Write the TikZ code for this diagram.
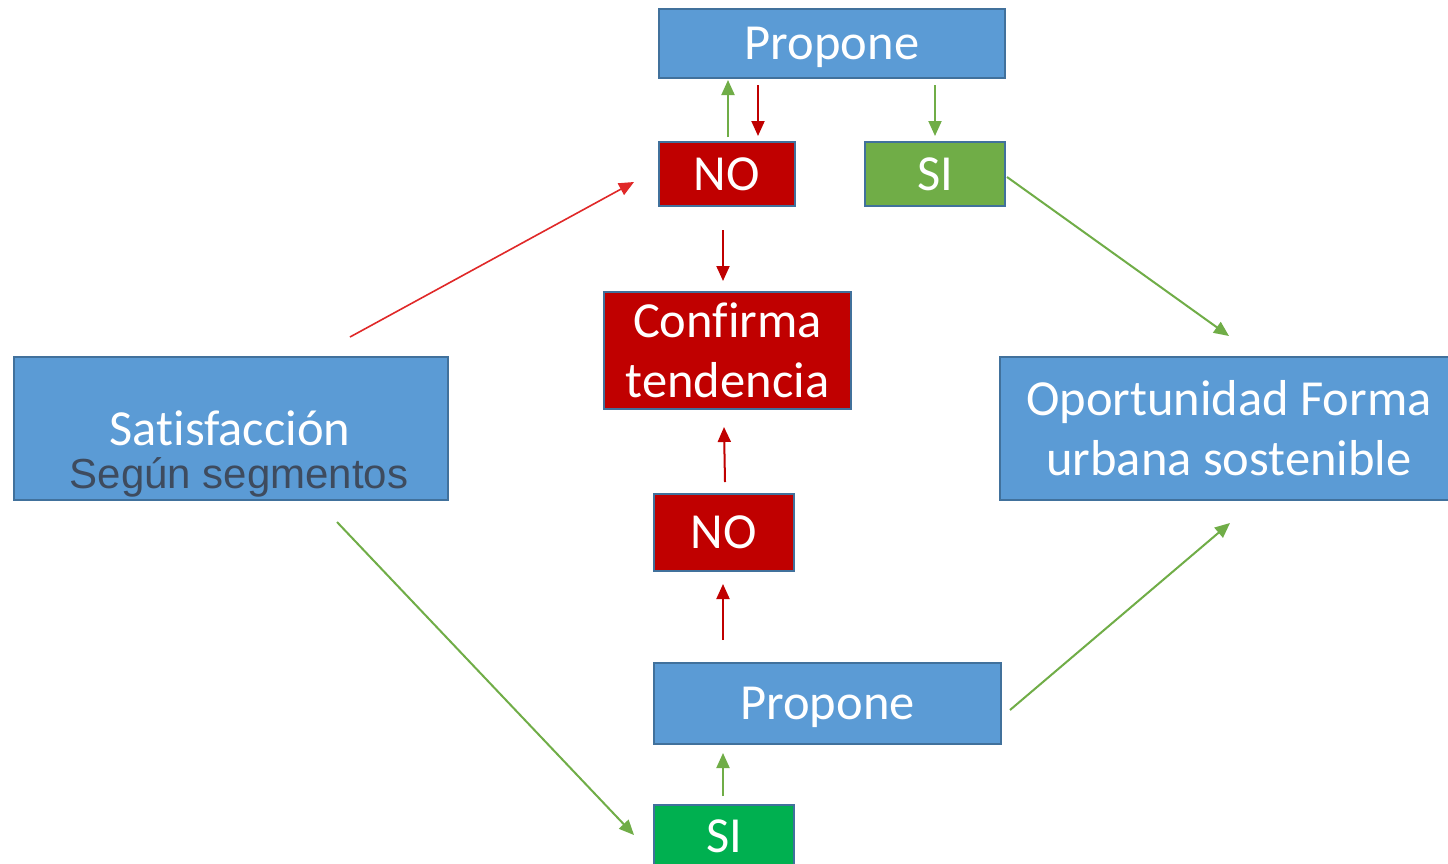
\documentclass[tikz,border=0pt]{standalone}
\usepackage{fontspec}
\setmainfont{Carlito}[Ligatures=NoCommon]
\newfontfamily\arialf{Liberation Sans}
\usetikzlibrary{arrows.meta}
\definecolor{boxblue}{HTML}{5B9BD5}
\definecolor{edgeblue}{HTML}{41719C}
\definecolor{boxred}{HTML}{C00000}
\definecolor{boxgreen}{HTML}{70AD47}
\definecolor{boxgreenb}{HTML}{00B050}
\definecolor{arrgreen}{HTML}{70AD47}
\definecolor{arrred}{HTML}{C00000}
\definecolor{arrredl}{HTML}{E02828}
\definecolor{darktxt}{HTML}{3E4B5E}
\tikzset{
  box/.style={draw=edgeblue, line width=2.7pt, inner sep=0pt, text=white, align=center,
    font=\fontsize{50.5}{60}\selectfont},
  one/.style={text depth=0pt},
  garr/.style={draw=arrgreen, line width=2pt, -{Triangle[length=15pt,width=13pt]}},
  rarr/.style={draw=arrred, line width=2pt, -{Triangle[length=15pt,width=13pt]}},
  rarrl/.style={draw=arrredl, line width=1.6pt, -{Triangle[length=15pt,width=13pt]}},
}
\begin{document}
\begin{tikzpicture}[x=1pt,y=-1pt]
\clip (0,0) rectangle (1448,863);
\fill[white] (0,0) rectangle (1448,863);
% nodes
\node[box, one, fill=boxblue, minimum width=346pt, minimum height=69pt] (prop1) at (832,43.5) {Propone};
\node[box, one, fill=boxred, minimum width=136pt, minimum height=64pt] (no1) at (727,174) {NO};
\node[box, one, fill=boxgreen, minimum width=140pt, minimum height=64pt] (si1) at (935,174) {SI};
\node[box, fill=boxred, minimum width=247pt, minimum height=117pt] (conf) at (727.5,350.5) {Confirma\\tendencia};
\node[box, one, fill=boxred, minimum width=140pt, minimum height=77pt] (no2) at (724,532.5) {NO};
\node[box, one, fill=boxblue, minimum width=347pt, minimum height=81pt] (prop2) at (827.5,703.5) {Propone};
\node[box, fill=boxgreenb, minimum width=140pt, minimum height=64pt] (si2) at (724,837) {};
\node[text=white, font=\fontsize{50.5}{60}\selectfont, anchor=base, inner sep=0pt] (si2t) at (724,852) {SI};
\node[box, fill=boxblue, minimum width=434pt, minimum height=143pt] (sat) at (231,428.5) {};
\node[text=white, font=\fontsize{50.5}{60}\selectfont, anchor=base, inner sep=0pt] (satt) at (230,445) {Satisfacción};
\node[text=darktxt, font=\arialf\fontsize{42}{50}\selectfont, anchor=base, inner sep=0pt] (segt) at (239,488) {Según segmentos};
\node[box, fill=boxblue, minimum width=458pt, minimum height=143pt] (opor) at (1229,428.5) {Oportunidad Forma\\urbana sostenible};
% connector end points
\coordinate (a1s) at (728,137); \coordinate (a1e) at (728,80);
\coordinate (a2s) at (758,85);  \coordinate (a2e) at (758,136);
\coordinate (a3s) at (935,85);  \coordinate (a3e) at (935,136);
\coordinate (a4s) at (1007,177); \coordinate (a4e) at (1229,336);
\coordinate (a5s) at (350,337); \coordinate (a5e) at (634,182);
\coordinate (a6s) at (723,230); \coordinate (a6e) at (723,281);
\coordinate (a7s) at (725,482); \coordinate (a7e) at (724,427);
\coordinate (a8s) at (723,640); \coordinate (a8e) at (723,584);
\coordinate (a9s) at (1010,710); \coordinate (a9e) at (1230,523);
\coordinate (a10s) at (337,522); \coordinate (a10e) at (634,835);
\coordinate (a11s) at (723,796); \coordinate (a11e) at (723,753);
% connectors
\draw[garr] (a1s) -- (a1e);
\draw[rarr] (a2s) -- (a2e);
\draw[garr] (a3s) -- (a3e);
\draw[garr] (a4s) -- (a4e);
\draw[rarrl] (a5s) -- (a5e);
\draw[rarr] (a6s) -- (a6e);
\draw[rarr] (a7s) -- (a7e);
\draw[rarr] (a8s) -- (a8e);
\draw[garr] (a9s) -- (a9e);
\draw[garr] (a10s) -- (a10e);
\draw[garr] (a11s) -- (a11e);
\end{tikzpicture}
\end{document}
